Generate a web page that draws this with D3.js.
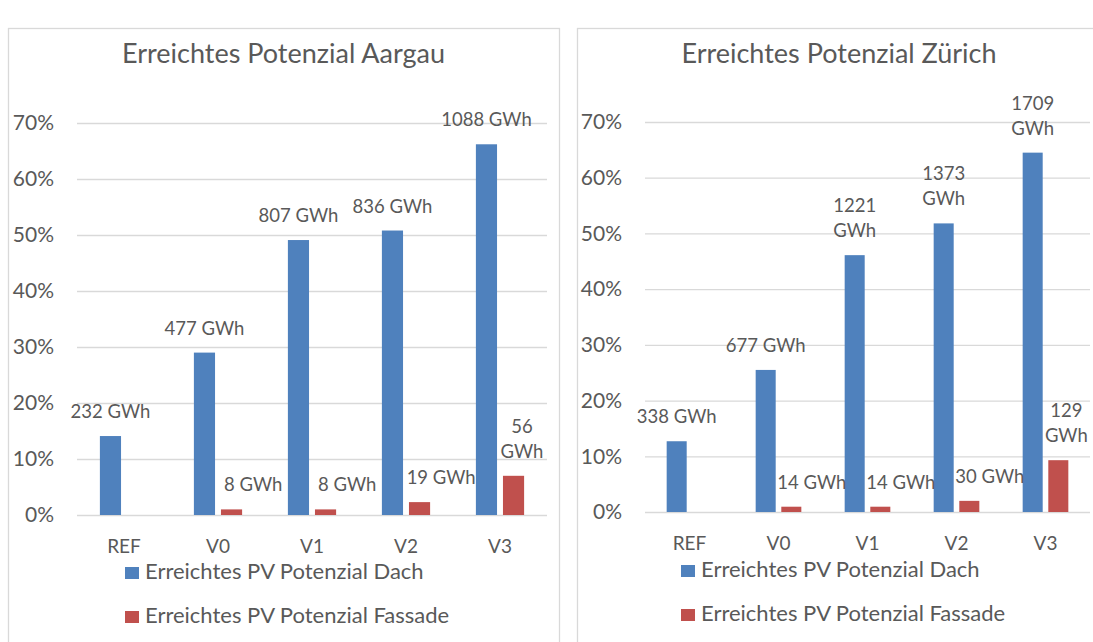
<!DOCTYPE html>
<html>
<head>
<meta charset="utf-8">
<script src="https://cdn.jsdelivr.net/npm/d3@7"></script>
<style>
  body { margin: 0; background: #fff; }
  svg text { font-family: Lato, "Open Sans", sans-serif; fill: #595959; }
</style>
</head>
<body>
<div id="chart"></div>
<script>
// data
var categories = ['REF', 'V0', 'V1', 'V2', 'V3']
var tickValues = [0, 0.1, 0.2, 0.3, 0.4, 0.5, 0.6, 0.7]
var seriesNames = ['Erreichtes PV Potenzial Dach', 'Erreichtes PV Potenzial Fassade']

var aargauDach = [0.141, 0.290, 0.491, 0.508, 0.662]
var aargauFassade = [null, 0.010, 0.010, 0.023, 0.070]
var aargauDachLabels = ['232 GWh', '477 GWh', '807 GWh', '836 GWh', '1088 GWh']
var aargauFassadeLabels = [null, '8 GWh', '8 GWh', '19 GWh', '56\nGWh']

var zuerichDach = [0.127, 0.255, 0.461, 0.518, 0.645]
var zuerichFassade = [null, 0.0095, 0.0095, 0.020, 0.093]
var zuerichDachLabels = ['338 GWh', '677 GWh', '1221\nGWh', '1373\nGWh', '1709\nGWh']
var zuerichFassadeLabels = [null, '14 GWh', '14 GWh', '30 GWh', '129\nGWh']

var colors = ['#4F81BD', '#C0504D']

var width = 1093
var height = 642

var svg = d3.select('#chart')
	.append('svg')
	.attr('width', width)
	.attr('height', height)

function drawPanel(p) {
	var g = svg.append('g')

	// panel frame (bottom runs off the picture)
	g.append('rect')
		.attr('x', p.left + 0.5)
		.attr('y', 28.5)
		.attr('width', p.right - p.left)
		.attr('height', 700)
		.attr('fill', 'none')
		.attr('stroke', '#D9D9D9')
		.attr('stroke-width', 1.3)

	g.append('text')
		.attr('x', (p.left + p.right) / 2)
		.attr('y', 63)
		.attr('text-anchor', 'middle')
		.style('font-size', '27px')
		.text(p.title)

	var x = d3.scaleBand().domain(categories).range([p.plotLeft, p.plotRight])
	var y = d3.scaleLinear().domain([0, 0.7]).range([p.zeroY, p.topY])

	var yAxis = g.append('g')
		.attr('transform', 'translate(' + p.plotLeft + ',0)')
		.call(d3.axisLeft(y)
			.tickValues(tickValues)
			.tickFormat(d3.format('.0%'))
			.tickSize(-(p.plotRight - p.plotLeft))
			.tickPadding(p.tickGap))
	yAxis.select('.domain').remove()
	yAxis.selectAll('line').attr('stroke', '#D9D9D9').attr('stroke-width', 1.3)
	yAxis.selectAll('text').style('font-size', '21px').attr('fill', '#595959')

	var xAxis = g.append('g')
		.attr('transform', 'translate(0,' + p.zeroY + ')')
		.call(d3.axisBottom(x).tickSize(0).tickPadding(p.catPad))
	xAxis.select('.domain').remove()
	xAxis.selectAll('text').style('font-size', '19px').attr('fill', '#595959')

	var bw = x.bandwidth()
	var barW = bw * 0.225
	var gap = bw * 0.063
	var series = [p.dach, p.fassade]
	var labels = [p.dachLabels, p.fassadeLabels]

	series.forEach(function (vals, s) {
		var rows = categories.map(function (c, i) { return { c: c, v: vals[i], label: labels[s][i] } })
			.filter(function (d) { return d.v != null })
		var bx = function (d) {
			var mid = x(d.c) + bw / 2
			return s === 0 ? mid - gap / 2 - barW : mid + gap / 2
		}
		g.selectAll('.bar' + s)
			.data(rows)
			.enter()
			.append('rect')
			.attr('x', bx)
			.attr('y', function (d) { return y(d.v) })
			.attr('width', barW)
			.attr('height', function (d) { return y(0) - y(d.v) })
			.attr('fill', colors[s])

		rows.forEach(function (d) {
			var lines = d.label.split('\n')
			var cx = bx(d) + barW / 2
			if (s === 1) cx += lines.length > 1 ? bw * 0.09 : bw * 0.23
			var base = y(d.v) - 18
			var t = g.append('text')
				.attr('x', cx)
				.attr('text-anchor', 'middle')
				.style('font-size', '18.5px')
			lines.forEach(function (ln, k) {
				t.append('tspan')
					.attr('x', cx)
					.attr('y', base - (lines.length - 1 - k) * 25)
					.text(ln)
			})
		})
	})

	// legend
	seriesNames.forEach(function (name, s) {
		var ly = p.legendY[s]
		g.append('rect')
			.attr('x', p.legendX)
			.attr('y', ly - 12)
			.attr('width', 14)
			.attr('height', 12)
			.attr('fill', colors[s])
		g.append('text')
			.attr('x', p.legendX + 20)
			.attr('y', ly)
			.style('font-size', '22px')
			.text(name)
	})
}

drawPanel({
	title: 'Erreichtes Potenzial Aargau',
	left: 8, right: 559,
	plotLeft: 77, plotRight: 547,
	zeroY: 515, topY: 123,
	tickGap: 23, catPad: 25,
	legendX: 125, legendY: [579, 623],
	dach: aargauDach, fassade: aargauFassade,
	dachLabels: aargauDachLabels, fassadeLabels: aargauFassadeLabels
})

drawPanel({
	title: 'Erreichtes Potenzial Zürich',
	left: 577, right: 1101,
	plotLeft: 645, plotRight: 1090,
	zeroY: 512, topY: 122,
	tickGap: 23, catPad: 25,
	legendX: 681, legendY: [577, 621],
	dach: zuerichDach, fassade: zuerichFassade,
	dachLabels: zuerichDachLabels, fassadeLabels: zuerichFassadeLabels
})
</script>
</body>
</html>
